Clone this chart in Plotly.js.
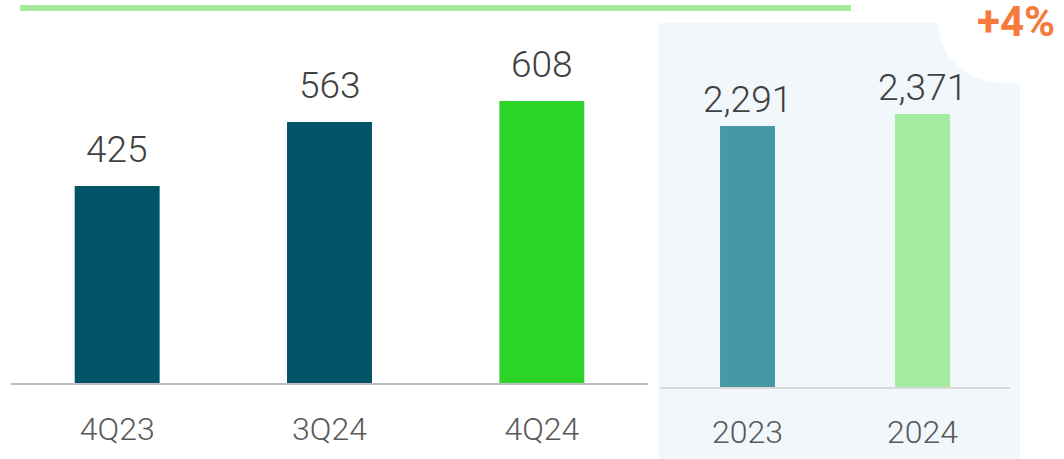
<!DOCTYPE html>
<html>
<head>
<meta charset="utf-8">
<script src="https://cdn.plot.ly/plotly-3.0.1.min.js"></script>
<style>
html,body{margin:0;padding:0;background:#fff;}
#chart{width:1064px;height:459px;}
</style>
</head>
<body>
<div id="chart"></div>
<script>
// Data
var quarterCategories = ["4Q23", "3Q24", "4Q24"];
var quarterValues = [425, 563, 608];
var quarterLabels = ["425", "563", "608"];
var yearCategories = ["2023", "2024"];
var yearValues = [2291, 2371];
var yearLabels = ["2,291", "2,371"];
var growthLabel = "+4%";

var W = 1064, H = 459;
function px(x){ return x / W; }
function py(y){ return 1 - y / H; }

var FONT = "Roboto, 'Open Sans', sans-serif";

var traces = [
  {
    type: "bar", x: quarterCategories, y: quarterValues,
    xaxis: "x", yaxis: "y", width: 0.4,
    marker: {color: ["#015366", "#015366", "#2cd427"]},
    hoverinfo: "none", showlegend: false
  },
  {
    type: "bar", x: yearCategories, y: yearValues,
    xaxis: "x2", yaxis: "y2", width: 0.314,
    marker: {color: ["#4698a5", "#a4eca0"]},
    hoverinfo: "none", showlegend: false
  }
];

var annotations = [];
quarterCategories.forEach(function(c, i){
  annotations.push({
    x: i, y: quarterValues[i], xref: "x", yref: "y",
    text: quarterLabels[i], showarrow: false, yanchor: "bottom", yshift: 13,
    font: {family: FONT, size: 37, color: "#404040", weight: 300}
  });
});
yearCategories.forEach(function(c, i){
  annotations.push({
    x: i, y: yearValues[i], xref: "x2", yref: "y2",
    text: yearLabels[i], showarrow: false, yanchor: "bottom", yshift: 3,
    font: {family: FONT, size: 37, color: "#404040", weight: 300}
  });
});
annotations.push({
  x: px(1016), y: py(22), xref: "paper", yref: "paper",
  xanchor: "center", yanchor: "middle",
  text: growthLabel, showarrow: false,
  font: {family: FONT, size: 42, color: "#f57a3b", weight: 700}
});

// white rounded cut-out path (paper coords)
var cx = 938, cy = 23, ex = 1003, ey = 83;
var k = 0.552;
var cut = "M " + px(930) + "," + py(-2) +
  " L " + px(1066) + "," + py(-2) +
  " L " + px(1066) + "," + py(ey) +
  " L " + px(ex) + "," + py(ey) +
  " C " + px(ex - k*(ex-cx)) + "," + py(ey) + " " + px(cx) + "," + py(cy + k*(ey-cy)) + " " + px(cx) + "," + py(cy) +
  " L " + px(cx) + "," + py(-2) + " Z";

var shapes = [
  {type: "rect", xref: "paper", yref: "paper", layer: "below",
   x0: px(658), x1: px(1020), y0: py(459), y1: py(23),
   fillcolor: "#f1f7fa", line: {width: 0}},
  {type: "path", xref: "paper", yref: "paper", layer: "below",
   path: cut, fillcolor: "#ffffff", line: {width: 0}},
  {type: "line", xref: "paper", yref: "paper",
   x0: px(20), x1: px(851), y0: py(8), y1: py(8),
   line: {color: "#a4eca0", width: 6}}
];

var layout = {
  width: W, height: H,
  margin: {l: 0, r: 0, t: 0, b: 0, pad: 0},
  paper_bgcolor: "#ffffff", plot_bgcolor: "rgba(0,0,0,0)",
  showlegend: false,
  xaxis: {
    domain: [px(11), px(648)], anchor: "y", type: "category",
    range: [-0.5, quarterCategories.length - 0.5],
    showline: true, linecolor: "#bfbfbf", linewidth: 1.5,
    ticks: "outside", ticklen: 17, tickcolor: "rgba(0,0,0,0)",
    showgrid: false, zeroline: false, fixedrange: true,
    tickfont: {family: FONT, size: 32, color: "#595959", weight: 300}
  },
  yaxis: {
    domain: [py(383), 1], anchor: "x", range: [0, 826],
    visible: false, showgrid: false, zeroline: false, fixedrange: true
  },
  xaxis2: {
    domain: [px(660), px(1010)], anchor: "y2", type: "category",
    range: [-0.5, yearCategories.length - 0.5],
    showline: true, linecolor: "#d9d9d9", linewidth: 2,
    ticks: "outside", ticklen: 16, tickcolor: "rgba(0,0,0,0)",
    showgrid: false, zeroline: false, fixedrange: true,
    tickfont: {family: FONT, size: 32, color: "#595959", weight: 300}
  },
  yaxis2: {
    domain: [py(387), 1], anchor: "x2", range: [551, 3131],
    visible: false, showgrid: false, zeroline: false, fixedrange: true
  },
  annotations: annotations,
  shapes: shapes
};

Plotly.newPlot("chart", traces, layout, {staticPlot: true, displayModeBar: false});
</script>
</body>
</html>
